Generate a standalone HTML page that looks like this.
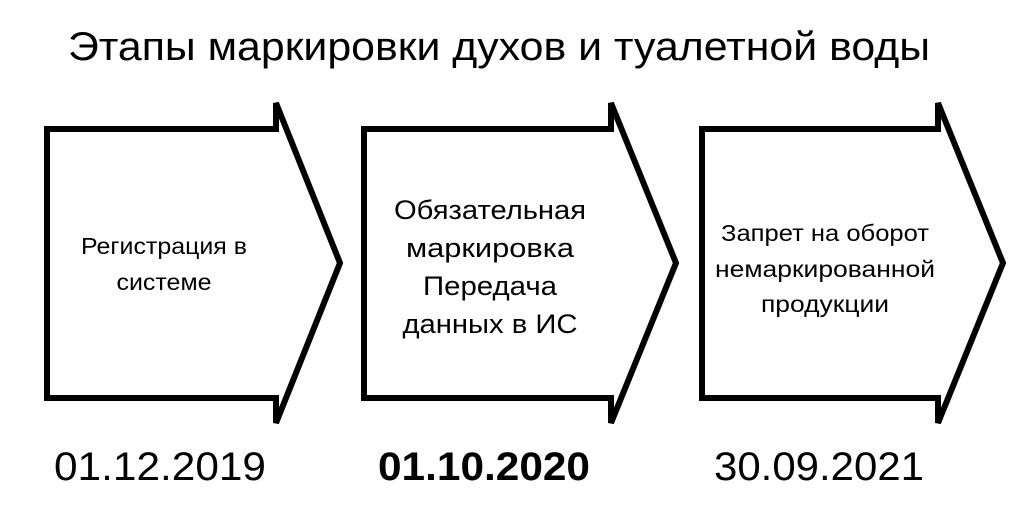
<!DOCTYPE html>
<html><head><meta charset="utf-8"><style>
html,body{margin:0;padding:0;background:#fff;}
svg{display:block;}
text{font-family:"Liberation Sans",sans-serif;fill:#000;}
</style></head><body>
<svg width="1024" height="508" viewBox="0 0 1024 508" xmlns="http://www.w3.org/2000/svg">
<text x="68" y="60" font-size="40" textLength="862" lengthAdjust="spacingAndGlyphs">Этапы маркировки духов и туалетной воды</text>
<g fill="#fff" stroke="#000" stroke-width="6" stroke-linejoin="miter">
<polygon points="47,129 276,129 276,103 340,263 276,423 276,398 47,398"/>
<polygon points="364,129 611,129 611,103 676,263 611,423 611,398 364,398"/>
<polygon points="702,129 938,129 938,103 1003,263 938,423 938,398 702,398"/>
</g>
<g font-size="23" text-anchor="middle">
<text x="164" y="254" textLength="166" lengthAdjust="spacingAndGlyphs">Регистрация в</text>
<text x="164" y="290" textLength="95" lengthAdjust="spacingAndGlyphs">системе</text>
</g>
<g font-size="27" text-anchor="middle">
<text x="490" y="219" textLength="192" lengthAdjust="spacingAndGlyphs">Обязательная</text>
<text x="490" y="257" textLength="168" lengthAdjust="spacingAndGlyphs">маркировка</text>
<text x="490" y="295" textLength="134" lengthAdjust="spacingAndGlyphs">Передача</text>
<text x="490" y="333" textLength="175" lengthAdjust="spacingAndGlyphs">данных в ИС</text>
</g>
<g font-size="23" text-anchor="middle">
<text x="825" y="241" textLength="208" lengthAdjust="spacingAndGlyphs">Запрет на оборот</text>
<text x="825" y="277" textLength="220" lengthAdjust="spacingAndGlyphs">немаркированной</text>
<text x="825" y="312" textLength="128" lengthAdjust="spacingAndGlyphs">продукции</text>
</g>
<g font-size="40">
<text x="54" y="480" textLength="212" lengthAdjust="spacingAndGlyphs">01.12.2019</text>
<text x="378" y="480" font-weight="bold" textLength="212" lengthAdjust="spacingAndGlyphs">01.10.2020</text>
<text x="714" y="480" textLength="210" lengthAdjust="spacingAndGlyphs">30.09.2021</text>
</g>
</svg>
</body></html>
